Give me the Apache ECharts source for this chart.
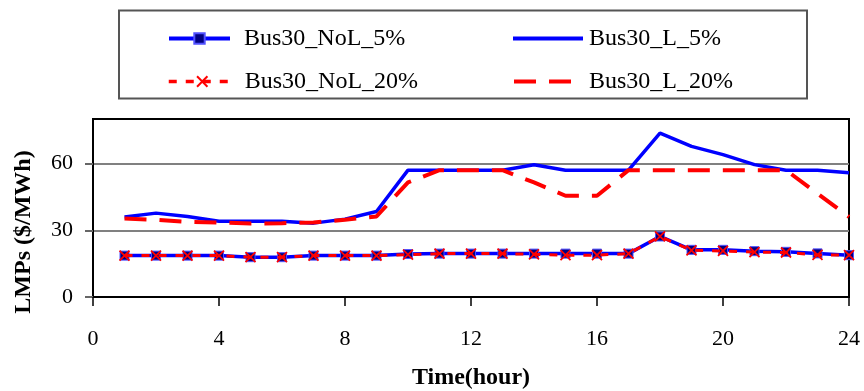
<!DOCTYPE html>
<html>
<head>
<meta charset="utf-8">
<script src="https://cdn.jsdelivr.net/npm/echarts@6/dist/echarts.min.js"></script>
<style>
  html, body { margin: 0; padding: 0; background: #fff; }
  #chart { width: 864px; height: 391px; }
</style>
</head>
<body>
<div id="chart"></div>
<script>
// Hourly locational marginal prices at bus 30, with and without losses
const hours = [1, 2, 3, 4, 5, 6, 7, 8, 9, 10, 11, 12, 13, 14, 15, 16, 17, 18, 19, 20, 21, 22, 23, 24];
const bus30NoL5 = [18.6, 18.6, 18.6, 18.6, 17.9, 17.9, 18.6, 18.6, 18.6, 19.3, 19.5, 19.5, 19.5, 19.5, 19.5, 19.5, 19.5, 27.2, 21.2, 21.2, 20.6, 20.3, 19.6, 18.8];
const bus30L5 = [36.0, 37.7, 36.2, 34.0, 34.0, 34.0, 33.2, 35.0, 38.4, 57.0, 57.0, 57.0, 57.0, 59.4, 57.0, 57.0, 57.0, 73.7, 67.7, 64.0, 59.5, 57.0, 57.0, 55.8];
const bus30NoL20 = [18.6, 18.6, 18.6, 18.6, 17.9, 17.9, 18.6, 18.6, 18.6, 19.0, 19.5, 19.5, 19.5, 19.2, 18.8, 18.8, 19.5, 27.2, 21.0, 20.7, 20.2, 20.0, 18.9, 18.8];
const bus30L20 = [35.3, 34.7, 33.8, 33.5, 33.0, 33.2, 33.5, 34.7, 36.2, 51.5, 57.0, 57.0, 57.0, 51.5, 45.5, 45.5, 57.0, 57.0, 57.0, 57.0, 57.0, 57.0, 46.5, 36.0];
const seriesNames = ['Bus30_NoL_5%', 'Bus30_L_5%', 'Bus30_NoL_20%', 'Bus30_L_20%'];
const xTicks = { min: 0, max: 24, step: 4 };
const yTicks = { min: 0, max: 80, step: 30 };
const yTickValues = [0, 30, 60];

const FONT = '"Liberation Serif", "Times New Roman", serif';
const pairs = (ys) => hours.map((h, i) => [h, ys[i]]);

const legendText = (pad) => ({
  fontFamily: FONT, fontSize: 24, color: '#000', padding: [0, 0, 0, pad]
});

const chart = echarts.init(document.getElementById('chart'), null, { renderer: 'canvas' });
chart.setOption({
  animation: false,
  backgroundColor: '#fff',
  grid: {
    left: 93, right: 15, top: 119, bottom: 94,
    show: true, borderColor: '#000', borderWidth: 2, backgroundColor: 'transparent'
  },
  legend: [
    {
      data: [seriesNames[0]], left: 167, top: 26.5, padding: 0, itemWidth: 61, itemHeight: 13,
      lineStyle: { width: 4 }, textStyle: legendText(9)
    },
    {
      data: [seriesNames[1]], left: 511, top: 26.5, padding: 0, itemWidth: 70, itemHeight: 13,
      lineStyle: { width: 4 }, itemStyle: { opacity: 0 }, textStyle: legendText(1)
    },
    {
      data: [seriesNames[2]], left: 167, top: 69.5, padding: 0, itemWidth: 67, itemHeight: 13,
      lineStyle: { width: 3.5 }, textStyle: legendText(4)
    },
    {
      data: [seriesNames[3]], left: 512, top: 69.5, padding: 0, itemWidth: 61, itemHeight: 13,
      lineStyle: { width: 4 }, itemStyle: { opacity: 0 }, textStyle: legendText(9)
    }
  ],
  graphic: [
    {
      type: 'rect', silent: true,
      shape: { x: 119, y: 10.5, width: 688, height: 88 },
      style: { fill: 'none', stroke: '#555', lineWidth: 2 }
    },
    {
      type: 'text', silent: true, x: 24, y: 232, rotation: Math.PI / 2,
      style: {
        text: 'LMPs ($/MWh)', font: 'bold 24px ' + FONT, fill: '#000',
        align: 'center', verticalAlign: 'middle'
      }
    }
  ],
  xAxis: {
    type: 'value', min: xTicks.min, max: xTicks.max, interval: xTicks.step,
    name: 'Time(hour)', nameLocation: 'middle', nameGap: 69,
    nameTextStyle: { fontFamily: FONT, fontSize: 24, fontWeight: 'bold', color: '#000' },
    axisLine: { show: true, lineStyle: { color: '#000', width: 2 } },
    axisTick: { show: true, inside: false, length: 9, lineStyle: { color: '#000', width: 1.5 } },
    axisLabel: { fontFamily: FONT, fontSize: 22, color: '#000', margin: 31 },
    splitLine: { show: false }
  },
  yAxis: {
    type: 'value', min: yTicks.min, max: yTicks.max, interval: yTicks.step,
    axisLine: { show: true, lineStyle: { color: '#000', width: 2 } },
    axisTick: { show: true, inside: false, length: 8, customValues: yTickValues, lineStyle: { color: '#666', width: 2 } },
    axisLabel: { fontFamily: FONT, fontSize: 22, color: '#000', margin: 20, customValues: yTickValues },
    splitLine: { show: true, showMinLine: false, lineStyle: { color: '#808080', width: 2 } }
  },
  series: [
    {
      name: seriesNames[0], type: 'line', data: pairs(bus30NoL5),
      symbol: 'rect', symbolSize: 9, showSymbol: true,
      lineStyle: { color: '#0000ff', width: 3.5, type: 'solid' },
      itemStyle: { color: '#000080', borderColor: '#5050ff', borderWidth: 1 },
      z: 2
    },
    {
      name: seriesNames[1], type: 'line', data: pairs(bus30L5),
      symbol: 'none',
      lineStyle: { color: '#0000ff', width: 3.5, type: 'solid' },
      itemStyle: { color: '#0000ff' },
      z: 2
    },
    {
      name: seriesNames[2], type: 'line', data: pairs(bus30NoL20),
      symbol: 'path://M0,0L10,10M10,0L0,10', symbolSize: 10, showSymbol: true,
      lineStyle: { color: '#ff0000', width: 3, type: [8, 9] },
      itemStyle: { color: '#ff0000', borderColor: '#ff0000', borderWidth: 1.8 },
      z: 3
    },
    {
      name: seriesNames[3], type: 'line', data: pairs(bus30L20),
      symbol: 'none',
      lineStyle: { color: '#ff0000', width: 4, type: [22, 13] },
      itemStyle: { color: '#ff0000' },
      z: 3
    }
  ]
});
</script>
</body>
</html>
